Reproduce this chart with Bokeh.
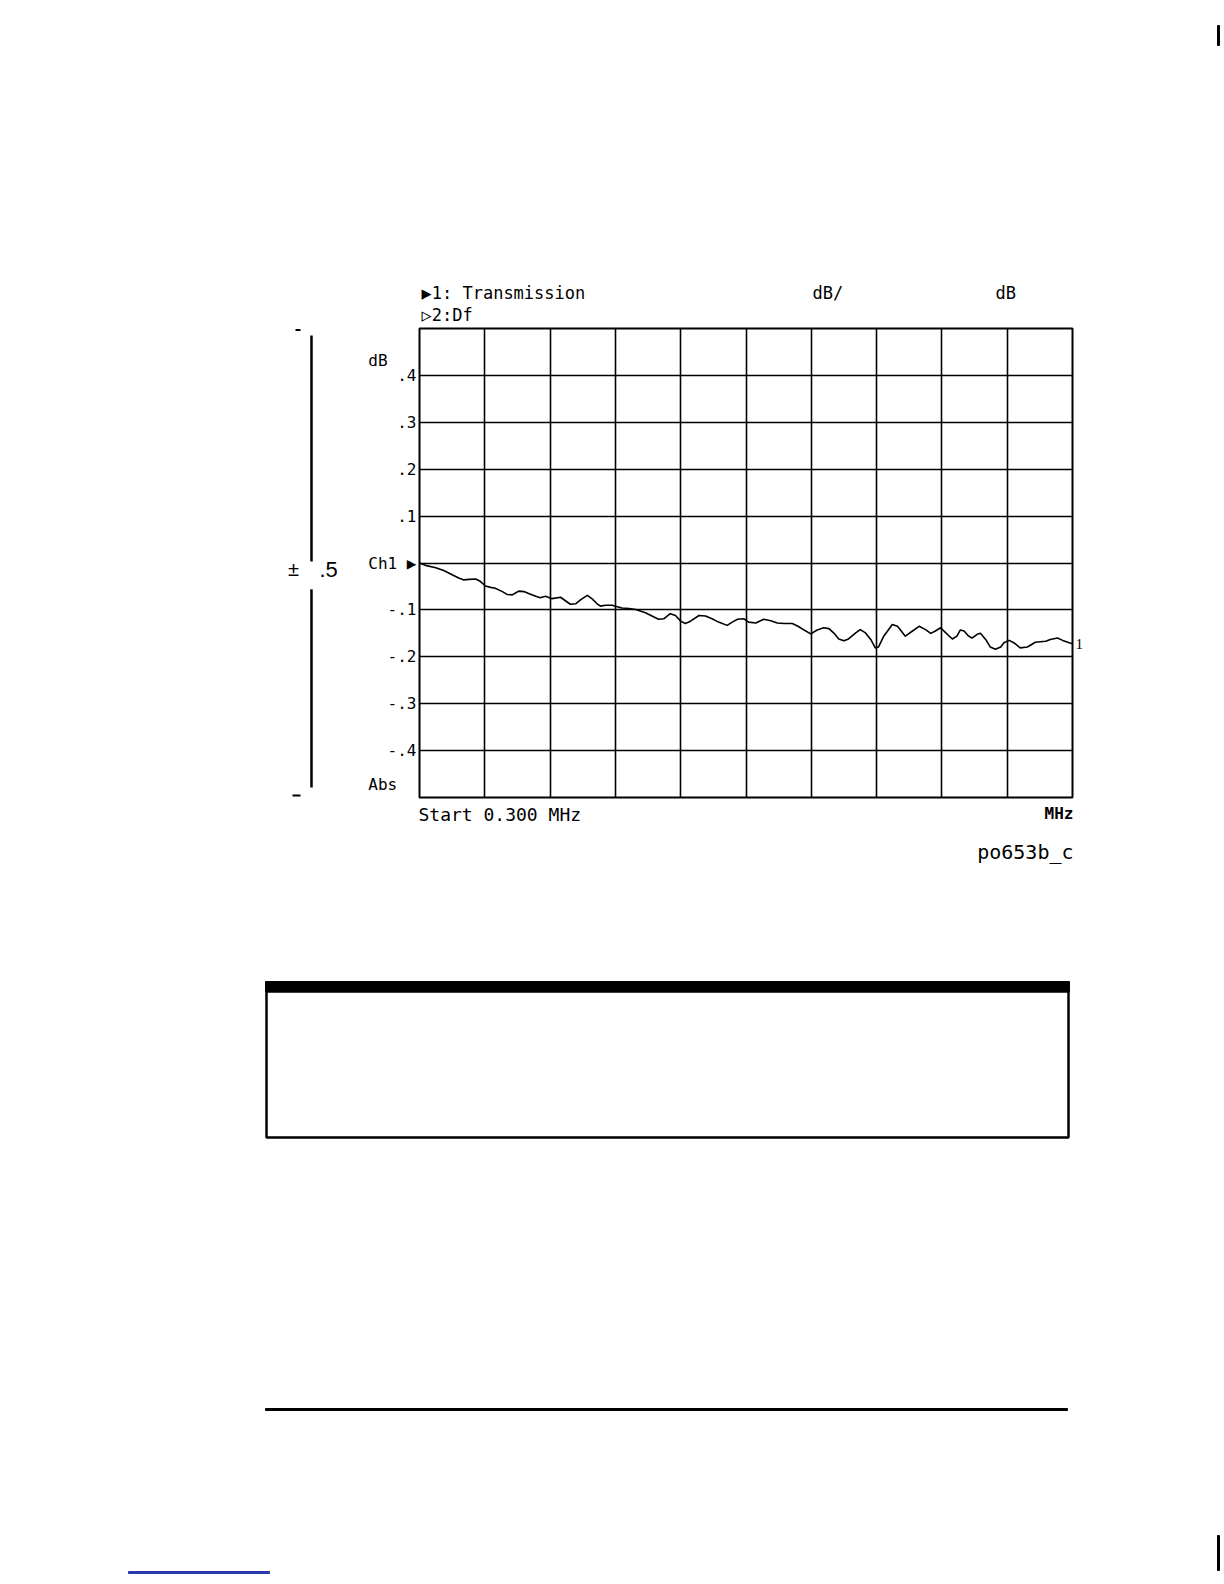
from bokeh.plotting import figure
from bokeh.models import FixedTicker, Range1d, Grid, LinearAxis
from bokeh.layouts import column, row
from bokeh.core.properties import value
from bokeh.embed import file_html
from bokeh.resources import INLINE

# ---------------- data ----------------
# x in graticule divisions (0 = Start 0.300 MHz, 10 = stop), y in dB
trace_x = [0.00, 0.09, 0.25, 0.37, 0.50, 0.60, 0.68, 0.76, 0.86, 0.93, 1.01, 1.09, 1.16,
           1.27, 1.34, 1.42, 1.47, 1.52, 1.60, 1.67, 1.78, 1.85, 1.93, 2.03, 2.16, 2.24,
           2.31, 2.39, 2.47, 2.57, 2.64, 2.72, 2.77, 2.85, 2.95, 3.00, 3.10, 3.21, 3.31,
           3.46, 3.56, 3.66, 3.74, 3.84, 3.92, 4.00, 4.07, 4.15, 4.28, 4.38, 4.48, 4.58,
           4.71, 4.79, 4.87, 4.97, 5.04, 5.15, 5.27, 5.38, 5.48, 5.58, 5.71, 5.81, 5.89,
           5.99, 6.09, 6.19, 6.27, 6.35, 6.42, 6.50, 6.57, 6.68, 6.75, 6.83, 6.91, 6.98,
           7.03, 7.11, 7.24, 7.32, 7.44, 7.55, 7.65, 7.75, 7.83, 7.90, 7.98, 8.06, 8.16,
           8.23, 8.28, 8.34, 8.41, 8.46, 8.54, 8.59, 8.67, 8.74, 8.82, 8.90, 8.95, 9.03,
           9.10, 9.20, 9.31, 9.43, 9.59, 9.66, 9.77, 9.85, 9.95, 10.0]
trace_db = [0.000, -0.005, -0.010, -0.016, -0.025, -0.032, -0.036, -0.035, -0.034, -0.039,
            -0.049, -0.052, -0.054, -0.061, -0.067, -0.068, -0.064, -0.060, -0.061, -0.065,
            -0.071, -0.074, -0.071, -0.076, -0.073, -0.081, -0.088, -0.087, -0.078, -0.069,
            -0.076, -0.087, -0.092, -0.090, -0.090, -0.092, -0.096, -0.097, -0.099,
            -0.106, -0.113, -0.120, -0.119, -0.108, -0.112, -0.124, -0.129, -0.124, -0.112,
            -0.113, -0.119, -0.126, -0.133, -0.126, -0.120, -0.119, -0.126, -0.128, -0.120,
            -0.123, -0.128, -0.129, -0.129, -0.136, -0.143, -0.151, -0.143, -0.138, -0.140,
            -0.150, -0.162, -0.166, -0.162, -0.149, -0.142, -0.149, -0.163, -0.181,
            -0.179, -0.156, -0.131, -0.135, -0.156, -0.145, -0.135, -0.142, -0.150, -0.145,
            -0.138, -0.149, -0.162, -0.156, -0.143, -0.145, -0.156, -0.160, -0.152, -0.150,
            -0.163, -0.179, -0.184, -0.179, -0.170, -0.165, -0.170, -0.181, -0.179, -0.169,
            -0.167, -0.163, -0.160, -0.165, -0.170, -0.172]

x_grid_ticks = [1, 2, 3, 4, 5, 6, 7, 8, 9]
y_grid_ticks = [-0.4, -0.3, -0.2, -0.1, 0.0, 0.1, 0.2, 0.3, 0.4]
y_ticks = [-0.472, -0.4, -0.3, -0.2, -0.1, 0.0, 0.1, 0.2, 0.3, 0.4, 0.432]
y_tick_labels = ["Abs\u00a0\u00a0", "-.4", "-.3", "-.2", "-.1", "Ch1 \u25B6",
                 ".1", ".2", ".3", ".4", "dB\u00a0\u00a0\u00a0"]

header_texts = ["\u25B61: Transmission", "\u25B72:Df", "dB/", "dB"]
footer_texts = ["Start 0.300 MHz", "MHz", "po653b_c"]
scale_texts = ["\u00B1", ".5"]

# ---------------- layout (page pixels) ----------------
W = 1220
TOP_H = 326
MID_H = 473
BOT_H = 1580 - TOP_H - MID_H
LEFT_W = 360
MAIN_W = W - LEFT_W
FL, FR = 419, 1072          # frame left / right on page
MONO = "DejaVu Sans Mono"


def canvas(x0, y0, w, h):
    """A figure whose frame fills the canvas; data units are page pixels."""
    f = figure(width=w, height=h, output_backend="svg", toolbar_location=None,
               x_range=Range1d(x0, x0 + w), y_range=Range1d(y0 + h, y0),
               x_axis_location=None, y_axis_location=None, title=None,
               min_border=0, min_border_left=0, min_border_right=0,
               min_border_top=0, min_border_bottom=0)
    f.center = [r for r in f.center if not isinstance(r, Grid)]
    f.outline_line_color = None
    f.background_fill_color = "white"
    f.border_fill_color = "white"
    return f


def txt(f, x, y, t, size, font=MONO, align="left", style="normal"):
    f.text(x=[x], y=[y], text=[t], text_font=value(font), text_font_size=value(size),
           text_align=align, text_baseline="middle", text_color="black",
           text_font_style=style)


# ---- top strip: header ----
top = canvas(0, 0, W, TOP_H)
txt(top, 421, 292, header_texts[0], "17px")
txt(top, 421, 314, header_texts[1], "17px")
txt(top, 812, 292, header_texts[2], "17px")
txt(top, 995, 292, header_texts[3], "17px")
top.quad(left=[1217], right=[1219], top=[25], bottom=[45], color="black")

# ---- left strip: scale bracket ----
left = canvas(0, TOP_H, LEFT_W, MID_H)
left.segment(x0=[311, 311], y0=[333, 589], x1=[311, 311], y1=[561, 789],
             line_color="black", line_width=2.5)
left.segment(x0=[295, 292], y0=[327.5, 797], x1=[300, 300], y1=[327.5, 797],
             line_color="black", line_width=2)
txt(left, 293, 569, scale_texts[0], "20px", font="Liberation Sans", align="center")
txt(left, 319, 569, scale_texts[1], "22px", font="Liberation Sans")

# ---- main chart ----
p = figure(width=MAIN_W, height=MID_H, output_backend="svg", toolbar_location=None,
           x_range=Range1d(0, 10), y_range=Range1d(-0.5, 0.5),
           x_axis_location=None, title=None,
           min_border_left=FL - LEFT_W, min_border_right=W - FR,
           min_border_top=2, min_border_bottom=2)
p.center = [r for r in p.center if not isinstance(r, Grid)]
p.background_fill_color = "white"
p.border_fill_color = "white"
p.outline_line_color = "black"
p.outline_line_width = 2

for dim, ticks in ((0, x_grid_ticks), (1, y_grid_ticks)):
    g = Grid(dimension=dim, ticker=FixedTicker(ticks=ticks), grid_line_color="black",
             grid_line_width=1.6, grid_line_alpha=1.0)
    p.add_layout(g, "center")

ya = p.yaxis[0]
ya.ticker = FixedTicker(ticks=y_ticks)
ya.major_label_overrides = dict(zip(y_ticks, y_tick_labels))
ya.axis_line_color = None
ya.major_tick_line_color = None
ya.minor_tick_line_color = None
ya.major_tick_out = 0
ya.major_tick_in = 0
ya.minor_tick_out = 0
ya.minor_tick_in = 0
ya.major_label_standoff = 3
ya.major_label_text_font = MONO
ya.major_label_text_font_size = "16px"
ya.major_label_text_color = "black"

end_axis = LinearAxis(ticker=FixedTicker(ticks=[trace_db[-1]]),
                      major_label_overrides={trace_db[-1]: "1"},
                      axis_line_color=None, major_tick_line_color=None,
                      minor_tick_line_color=None, major_tick_out=0, major_tick_in=0,
                      minor_tick_out=0, minor_tick_in=0, major_label_standoff=3,
                      major_label_text_font="Liberation Serif",
                      major_label_text_font_size="15px",
                      major_label_text_color="black")
p.add_layout(end_axis, "right")

p.line(trace_x, trace_db, line_color="black", line_width=1.6, line_join="round")

# ---- bottom strip: footer labels, empty note box, rules ----
bot = canvas(0, TOP_H + MID_H, W, BOT_H)
txt(bot, 418, 814, footer_texts[0], "18px")
txt(bot, 1073, 813, footer_texts[1], "16px", align="right", style="bold")
txt(bot, 1073, 851, footer_texts[2], "20px", align="right")
bot.quad(left=[265], right=[1069], top=[981], bottom=[991], color="black")
bot.quad(left=[266], right=[1068], top=[991], bottom=[1137], fill_color=None,
         line_color="black", line_width=2.5)
bot.quad(left=[265], right=[1067], top=[1408], bottom=[1410], color="black")
bot.quad(left=[128], right=[269], top=[1571], bottom=[1573], color="#2a3aa8")
bot.quad(left=[1217], right=[1219], top=[1535], bottom=[1570], color="black")

layout = column(top, row(left, p), bot)
open("out.html", "w").write(file_html(layout, INLINE))
